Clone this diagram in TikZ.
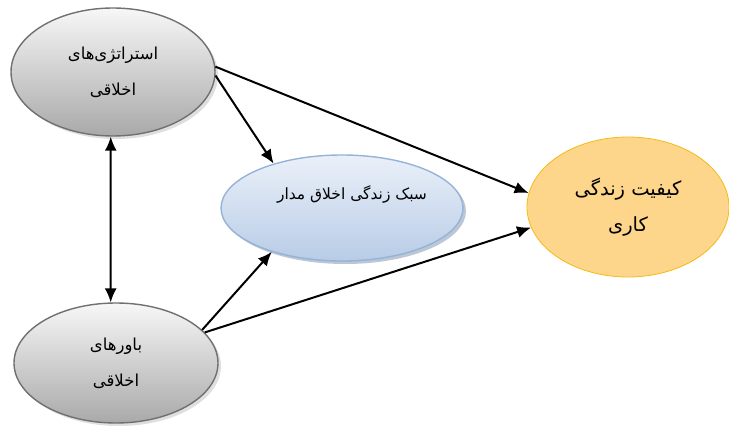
\documentclass[tikz,border=0pt]{standalone}
\usepackage{fontspec}
\TeXXeTstate=1
\newfontfamily\arabicfont[Script=Arabic]{DejaVu Sans}
\usetikzlibrary{shapes.geometric,arrows.meta,shadows}
\definecolor{grayedge}{HTML}{707070}
\definecolor{graytop}{HTML}{F7F7F7}
\definecolor{graybot}{HTML}{A9A9A9}
\definecolor{blueedge}{HTML}{95B3D7}
\definecolor{bluetop}{HTML}{EAF0F9}
\definecolor{bluebot}{HTML}{B8CCE6}
\definecolor{orangeedge}{HTML}{F5BA14}
\definecolor{orangefill}{HTML}{FDD68C}
\begin{document}
\begin{tikzpicture}[x=1pt,y=-1pt,
  grayell/.style={ellipse, draw=grayedge, line width=1.4pt, top color=graytop, bottom color=graybot,
    drop shadow={shadow xshift=3pt, shadow yshift=-3pt, fill=black!25},
    minimum width=204pt, minimum height=128pt, inner sep=0pt, align=center,
    font=\arabicfont\fontsize{16.5}{36}\selectfont},
  blueell/.style={ellipse, draw=blueedge, line width=1.4pt, top color=bluetop, bottom color=bluebot,
    drop shadow={shadow xshift=3pt, shadow yshift=-3pt, fill=blueedge!80!black},
    minimum width=242pt, minimum height=106pt, inner sep=0pt, align=center,
    font=\arabicfont\fontsize{15.5}{15}\selectfont, text height=8pt, text depth=24pt},
  orangeell/.style={ellipse, draw=orangeedge, line width=0.8pt, fill=orangefill,
    minimum width=202pt, minimum height=140pt, inner sep=0pt, align=center,
    font=\arabicfont\fontsize{19.5}{36}\selectfont},
  arr/.style={line width=2pt, -{Latex[length=14pt,width=12pt]}},
  darr/.style={line width=2pt, {Latex[length=14pt,width=12pt]}-{Latex[length=14pt,width=12pt]}}
]
\useasboundingbox (0,0) rectangle (729,430);
\node[grayell] (sa) at (113,72) {\beginR استراتژی‌های\endR\\\beginR اخلاقی\endR};
\node[grayell, minimum height=120pt] (sb) at (116,363) {\beginR باورهای\endR\\\beginR اخلاقی\endR};
\node[blueell] (m) at (342,208) {\hspace*{20pt}\beginR سبک زندگی اخلاق مدار\endR};
\node[orangeell] (q) at (628,207) {\beginR کیفیت زندگی\endR\\\beginR کاری\endR};
\draw[arr] (sa.3) -- (q.172);
\draw[arr] (sa.-2) -- (m.147);
\draw[darr] (sa.-92) -- (sb.95);
\draw[arr] (sb.21) -- (m.212);
\draw[arr] (sb.19) -- (q.192);
\end{tikzpicture}
\end{document}
